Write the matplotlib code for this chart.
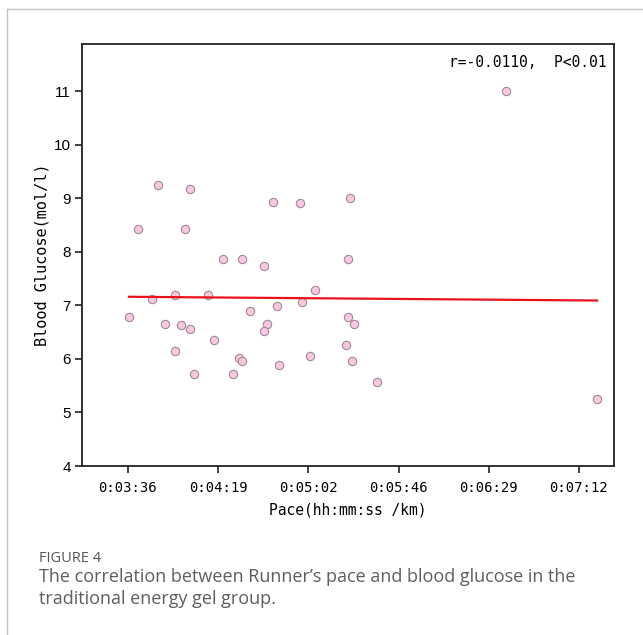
import matplotlib
matplotlib.use("Agg")
import matplotlib.pyplot as plt
from matplotlib.lines import Line2D
import numpy as np

# Pace in seconds per km, blood glucose in mmol/l
pace_s = [230.5, 245.5, 285.5, 220.6, 243.4, 261.5, 270.4, 281.3, 216.5, 227.5,
          238.5, 254.5, 233.7, 241.5, 245.5, 274.3, 282.4, 281.3, 287.2, 257.3,
          238.5, 269.3, 270.6, 247.5, 266.4, 288.5, 298.4, 322.3, 321.2, 305.4,
          299.3, 321.2, 324.4, 320.3, 303.3, 323.3, 335.1, 396.9, 440.7]
glucose = [9.25, 9.17, 8.93, 8.43, 8.42, 7.86, 7.86, 7.73, 6.79, 7.11,
           7.20, 7.20, 6.66, 6.64, 6.56, 6.89, 6.65, 6.52, 6.99, 6.35,
           6.15, 6.02, 5.97, 5.72, 5.72, 5.88, 8.92, 9.00, 7.86, 7.28,
           7.06, 6.78, 6.66, 6.26, 6.05, 5.97, 5.56, 11.01, 5.26]

# Fitted line values at the slowest / fastest pace
fit_y = [7.16, 7.09]

x_ticks = [216.0, 259.2, 302.4, 345.6, 388.8, 432.0]
x_tick_labels = ["0:03:36", "0:04:19", "0:05:02", "0:05:46", "0:06:29", "0:07:12"]
y_ticks = [4, 5, 6, 7, 8, 9, 10, 11]

stat_text = "r=-0.0110,  P<0.01"

fig = plt.figure(figsize=(6.43, 6.35), dpi=100)

# Light frame around the figure panel
fig.add_artist(Line2D([7 / 643, 1.0], [1 - 9 / 635, 1 - 9 / 635],
                      transform=fig.transFigure, color="#c4c4c4", lw=1.0))
fig.add_artist(Line2D([7 / 643, 7 / 643], [0.0, 1 - 9 / 635],
                      transform=fig.transFigure, color="#c4c4c4", lw=1.0))

ax = fig.add_axes([82 / 643, 1 - 466 / 635, (614 - 82) / 643, (466 - 44) / 635])

ax.scatter(pace_s, glucose, s=36, facecolor="#f7c8e0", edgecolor="#a08a96",
           linewidth=0.8, zorder=3)
ax.plot([min(pace_s), max(pace_s)], fit_y, color="#e8121a", lw=1.6, zorder=4)

ax.set_xlim(194.0, 448.8)
ax.set_ylim(4, 11.88)
ax.set_xticks(x_ticks)
ax.set_xticklabels(x_tick_labels, family="DejaVu Sans Mono", fontsize=10)
ax.set_yticks(y_ticks)
ax.set_yticklabels([str(v) for v in y_ticks], family="Liberation Sans", fontsize=11)
ax.tick_params(axis="both", direction="out", length=5, width=1.2, color="#222222")
ax.tick_params(axis="x", pad=6)
ax.tick_params(axis="y", pad=3)

for sp in ax.spines.values():
    sp.set_linewidth(1.3)
    sp.set_color("#222222")

ax.set_xlabel("Pace(hh:mm:ss /km)", family="DejaVu Sans Mono", fontsize=10.5,
              labelpad=5)
ax.set_ylabel("Blood Glucose(mol/l)", family="DejaVu Sans Mono", fontsize=11,
              labelpad=3)

ax.text(0.985, 0.975, stat_text, transform=ax.transAxes, ha="right", va="top",
        family="DejaVu Sans Mono", fontsize=10.5)

fig.text(39 / 643, 1 - 559 / 635, "FIGURE 4", family="Open Sans", fontsize=10.5,
         color="#555555", va="center")
fig.text(39 / 643, 1 - 577 / 635,
         "The correlation between Runner\u2019s pace and blood glucose in the",
         family="Open Sans", fontsize=13, color="#5e5e5e", va="center")
fig.text(39 / 643, 1 - 599 / 635, "traditional energy gel group.",
         family="Open Sans", fontsize=13, color="#5e5e5e", va="center")

fig.savefig("out.png", dpi=100)
